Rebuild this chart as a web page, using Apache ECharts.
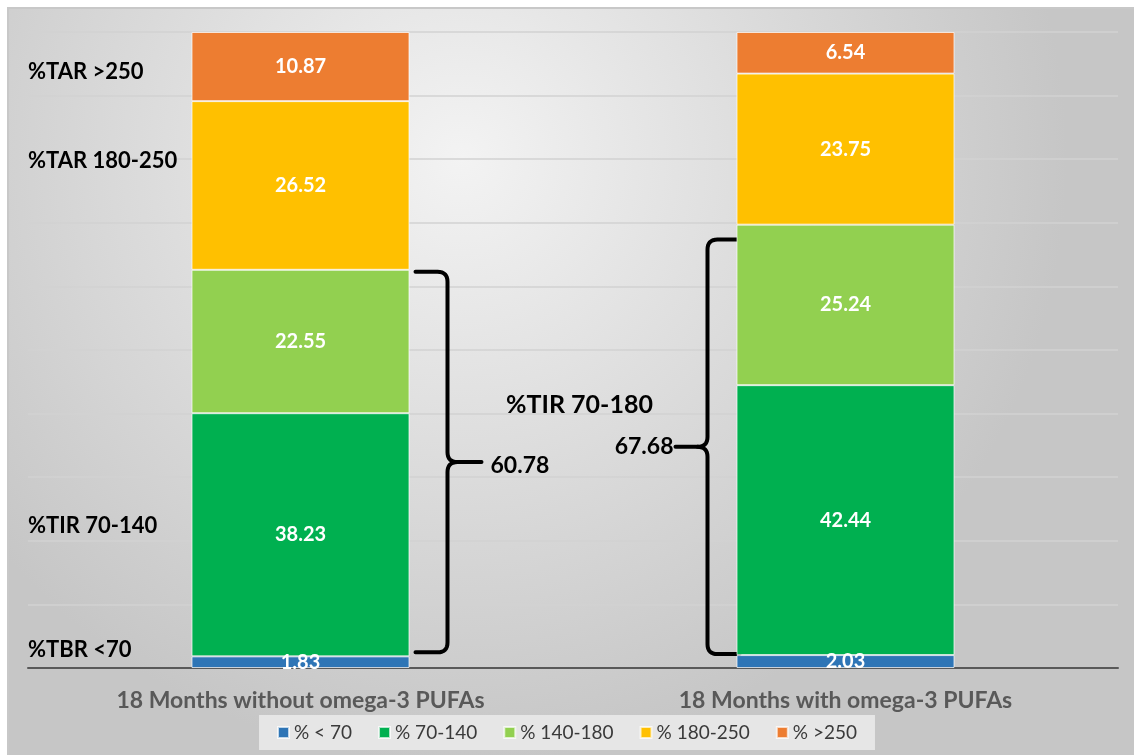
<!DOCTYPE html>
<html>
<head>
<meta charset="utf-8">
<script src="https://cdn.jsdelivr.net/npm/echarts@6/dist/echarts.min.js"></script>
<style>
  html, body { margin: 0; padding: 0; background: #fff; }
  #chart { width: 1134px; height: 755px; }
</style>
</head>
<body>
<div id="chart"></div>
<script>
// data
var categories = ['18 Months without omega-3 PUFAs', '18 Months with omega-3 PUFAs'];
var seriesNames = ['% < 70', '% 70-140', '% 140-180', '% 180-250', '% >250'];
var below70 = [1.83, 2.03];
var range70to140 = [38.23, 42.44];
var range140to180 = [22.55, 25.24];
var range180to250 = [26.52, 23.75];
var above250 = [10.87, 6.54];
var tirTotals = [60.78, 67.68];
var sideLabels = ['%TAR >250', '%TAR 180-250', '%TIR 70-140', '%TBR <70'];
var sideLabelValues = [93.8, 79.8, 22.3, 2.8]; // vertical place of the left texts, in axis units
var colors = ['#2E75B6', '#00B050', '#92D050', '#FFC000', '#ED7D31'];

var seriesData = [below70, range70to140, range140to180, range180to250, above250];

var myChart = echarts.init(document.getElementById('chart'));

var series = seriesData.map(function (d, i) {
	return {
		name: seriesNames[i],
		type: 'bar',
		stack: 'all',
		barWidth: '40%',
		data: d,
		itemStyle: { color: colors[i], borderColor: 'rgba(255,255,255,0.7)', borderWidth: 1 },
		label: {
			show: true,
			position: 'inside',
			color: '#fff',
			fontFamily: 'Lato',
			fontWeight: 'bold',
			fontSize: 20,
			formatter: function (p) { return p.value.toFixed(2); }
		}
	};
});

var option = {
	animation: false,
	backgroundColor: '#fff',
	color: colors,
	grid: { left: 28, right: 16, top: 32, bottom: 87 },
	legend: {
		bottom: 5,
		left: 'center',
		itemWidth: 11,
		itemHeight: 11,
		itemGap: 26,
		padding: [8, 18, 8, 18],
		backgroundColor: 'rgba(235,235,235,0.85)',
		icon: 'rect',
		textStyle: { fontFamily: 'Lato', fontSize: 19, color: '#3a3a3a' },
		data: seriesNames
	},
	xAxis: {
		type: 'category',
		data: categories,
		axisTick: { show: false },
		axisLine: { lineStyle: { color: '#595959', width: 2 } },
		axisLabel: { margin: 21, color: '#595959', fontFamily: 'Lato', fontWeight: 'bold', fontSize: 23 }
	},
	yAxis: {
		type: 'value',
		min: 0,
		max: 100,
		interval: 10,
		axisLabel: { show: false },
		axisLine: { show: false },
		axisTick: { show: false },
		splitLine: { lineStyle: { color: '#d2d2d2', width: 1.5 } }
	},
	series: series
};

myChart.setOption(option);

// quadratic curve sampled into points
function quad(p0, c, p1, pts) {
	for (var k = 1; k <= 8; k++) {
		var t = k / 8, u = 1 - t;
		pts.push([u * u * p0[0] + 2 * u * t * c[0] + t * t * p1[0], u * u * p0[1] + 2 * u * t * c[1] + t * t * p1[1]]);
	}
}

// curly brace as two polylines (top half, bottom half)
function brace(x0, spine, tip, yTop, yBot) {
	var dir = tip > spine ? 1 : -1;
	var yMid = (yTop + yBot) / 2;
	var r = 10;
	var a = [[x0, yTop], [spine - dir * r, yTop]];
	quad([spine - dir * r, yTop], [spine, yTop], [spine, yTop + r], a);
	a.push([spine, yMid - 10]);
	quad([spine, yMid - 10], [spine, yMid], [spine + dir * 10, yMid], a);
	a.push([tip, yMid]);
	var b = [[spine + dir * 10, yMid]];
	quad([spine + dir * 10, yMid], [spine, yMid], [spine, yMid + 10], b);
	b.push([spine, yBot - r]);
	quad([spine, yBot - r], [spine, yBot], [spine - dir * r, yBot], b);
	b.push([x0, yBot]);
	return [a, b];
}

function place() {
	var w = myChart.getWidth(), h = myChart.getHeight();
	var c0 = myChart.convertToPixel({ seriesIndex: 0 }, [0, 0]);
	var c1 = myChart.convertToPixel({ seriesIndex: 0 }, [1, 0]);
	var bw = (c1[0] - c0[0]) * 0.4;
	var py = function (v) { return myChart.convertToPixel({ yAxisIndex: 0 }, v); };
	var line = { stroke: '#000', lineWidth: 4, lineJoin: 'round', lineCap: 'round' };

	var g = [];
	g.push({
		type: 'rect', z: -10, silent: true,
		shape: { x: 8, y: 8, width: w, height: h },
		style: {
			fill: new echarts.graphic.RadialGradient(0.4, 0.2, 0.8, [
				{ offset: 0, color: '#f3f3f3' },
				{ offset: 1, color: '#c6c6c6' }
			]),
			stroke: '#c8c8c8', lineWidth: 2
		}
	});

	sideLabels.forEach(function (t, i) {
		g.push({
			type: 'text', x: 28, y: py(sideLabelValues[i]),
			style: { text: t, fill: '#000', font: 'bold 22px Lato', verticalAlign: 'middle' }
		});
	});

	// left brace: to the right of the first bar
	var lTop = py(below70[0] + tirTotals[0]) + 2, lBot = py(below70[0]) - 4;
	var lx = c0[0] + bw / 2 + 6;
	brace(lx, lx + 32, lx + 66, lTop, lBot).forEach(function (pts) {
		g.push({ type: 'polyline', silent: true, shape: { points: pts }, style: line });
	});
	g.push({
		type: 'text', x: lx + 75, y: (lTop + lBot) / 2 + 3,
		style: { text: tirTotals[0].toFixed(2), fill: '#000', font: 'bold 23px Lato', verticalAlign: 'middle' }
	});

	// right brace: to the left of the second bar
	var rTop = py(tirTotals[1]) + 2, rBot = py(below70[1]) - 1;
	var rx = c1[0] - bw / 2 + 3;
	brace(rx, rx - 32, rx - 64, rTop, rBot).forEach(function (pts) {
		g.push({ type: 'polyline', silent: true, shape: { points: pts }, style: line });
	});
	g.push({
		type: 'text', x: rx - 66, y: (rTop + rBot) / 2,
		style: { text: tirTotals[1].toFixed(2), fill: '#000', font: 'bold 23px Lato', align: 'right', verticalAlign: 'middle' }
	});

	g.push({
		type: 'text', x: (lx + rx) / 2 + 2, y: (rTop + rBot) / 2 - 42,
		style: { text: '%TIR 70-180', fill: '#000', font: 'bold 25px Lato', align: 'center', verticalAlign: 'middle' }
	});

	myChart.setOption({ graphic: g });
}

place();
</script>
</body>
</html>
